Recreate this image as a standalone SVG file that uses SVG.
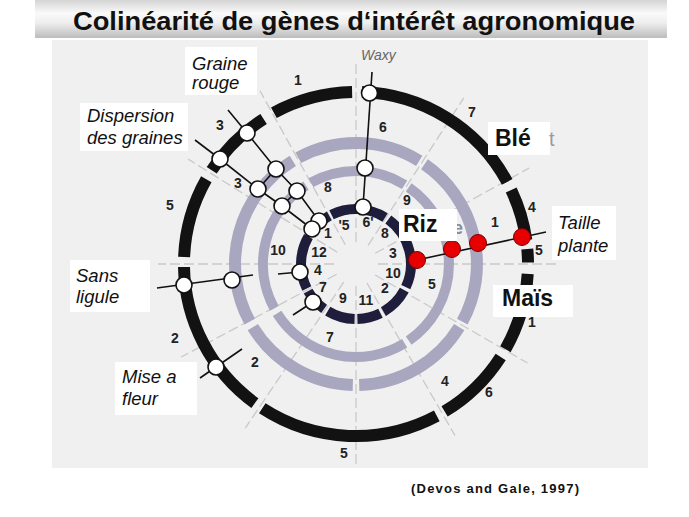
<svg xmlns="http://www.w3.org/2000/svg" width="689" height="517" viewBox="0 0 689 517">
<defs>
<linearGradient id="bar" x1="0" y1="0" x2="0" y2="1">
<stop offset="0" stop-color="#d4d4d4"/>
<stop offset="0.35" stop-color="#fafafa"/>
<stop offset="0.6" stop-color="#eeeeee"/>
<stop offset="1" stop-color="#bcbcbc"/>
</linearGradient>
<style>
.rad{stroke:#c9c9c9;stroke-width:1.3;stroke-dasharray:10 4;fill:none}
.blk{fill:none;stroke:#121212;stroke-width:12}
.gry{fill:none;stroke:#a9a6bf;stroke-width:12}
.gry2{fill:none;stroke:#a9a6bf;stroke-width:10}
.nvy{fill:none;stroke:#1e1e3c;stroke-width:10}
.ln{fill:none;stroke:#111;stroke-width:1.6}
.wc{fill:#fff;stroke:#111;stroke-width:1.6}
.rc{fill:#e60000;stroke:#7a0000;stroke-width:1}
.num{font-family:"Liberation Sans",Arial,sans-serif;font-weight:bold;font-size:14px;fill:#222;text-anchor:middle}
.lab{font-family:"Liberation Sans",Arial,sans-serif;font-style:italic;font-size:18.5px;fill:#111}
.sp{font-family:"Liberation Sans",Arial,sans-serif;font-weight:bold;font-size:23px;fill:#111}
.box{fill:#fff}
</style>
</defs>
<rect width="689" height="517" fill="#fff"/>
<rect x="52" y="40" width="596" height="428" fill="#f0f0f0"/>
<g id="title">
<rect x="35" y="0" width="632" height="38" fill="url(#bar)"/>
<text x="354" y="30" text-anchor="middle" font-family="Liberation Sans,Arial,sans-serif" font-weight="bold" font-size="25" textLength="562" lengthAdjust="spacingAndGlyphs" fill="#111">Colinéarité de gènes d‘intérêt agronomique</text>
</g>
<g id="radials">
<line class="rad" x1="356" y1="242" x2="356" y2="62"/>
<line class="rad" x1="368" y1="245.5" x2="463.8" y2="97.9"/>
<line class="rad" x1="375.2" y1="253.3" x2="529.2" y2="168"/>
<line class="rad" x1="378" y1="264" x2="560" y2="264"/>
<line class="rad" x1="375.1" y1="275" x2="527.5" y2="363"/>
<line class="rad" x1="367" y1="283.1" x2="455" y2="435.5"/>
<line class="rad" x1="356" y1="286" x2="356" y2="464"/>
<line class="rad" x1="343.7" y1="282.2" x2="245.3" y2="428.1"/>
<line class="rad" x1="336.6" y1="274.3" x2="181.2" y2="357"/>
<line class="rad" x1="334" y1="264" x2="158" y2="264"/>
<line class="rad" x1="337.3" y1="252.3" x2="188.1" y2="159.1"/>
<line class="rad" x1="345.3" y1="244.8" x2="260" y2="90.8"/>
</g>
<g id="ring-ble">
<path class="blk" d="M362,92.1 A172,172 0 0 1 507.2,181.9"/>
<path class="blk" d="M511.2,190 A172,172 0 0 1 526.3,240.1"/>
<path class="blk" d="M527.3,249 A172,172 0 0 1 528,262.5"/>
<path class="blk" d="M527.7,273.9 A172,172 0 0 1 505.4,349.2"/>
<path class="blk" d="M500.7,356.9 A172,172 0 0 1 444.6,411.4"/>
<path class="blk" d="M436.8,415.9 A172,172 0 0 1 262.3,408.3"/>
<path class="blk" d="M254.9,403.1 A172,172 0 0 1 184,267"/>
<path class="blk" d="M184.1,257.1 A172,172 0 0 1 206.3,179.3"/>
<path class="blk" d="M211.7,170.3 A172,172 0 0 1 263.6,119"/>
<path class="blk" d="M273.9,112.8 A172,172 0 0 1 352.1,92.1"/>
</g>
<g id="ring-gray-outer">
<path class="gry" d="M298.3,157.7 A121,121 0 0 1 419.2,160.8"/>
<path class="gry" d="M424.5,164.3 A121,121 0 0 1 462.3,321.7"/>
<path class="gry" d="M459.2,327.2 A121,121 0 0 1 359.2,385"/>
<path class="gry" d="M352.8,385 A121,121 0 0 1 252.8,327.2"/>
<path class="gry" d="M249.7,321.7 A121,121 0 0 1 292.8,160.8"/>
</g>
<g id="ring-gray-inner">
<path class="gry2" d="M310.9,182.7 A93,93 0 0 1 404.6,184.7"/>
<path class="gry2" d="M408.7,187.4 A93,93 0 0 1 408.7,340.6"/>
<path class="gry2" d="M404.6,343.3 A93,93 0 0 1 277.1,313.3"/>
<path class="gry2" d="M274.3,308.4 A93,93 0 0 1 306,185.6"/>
</g>
<g id="ring-riz">
<path class="nvy" d="M331.5,214.8 A55,55 0 0 1 385.1,217.4"/>
<path class="nvy" d="M388.3,219.5 A55,55 0 0 1 405.8,287.2"/>
<path class="nvy" d="M404.3,290.2 A55,55 0 0 1 383.5,311.6"/>
<path class="nvy" d="M380.5,313.2 A55,55 0 0 1 357.4,319"/>
<path class="nvy" d="M354.6,319 A55,55 0 0 1 327.7,311.1"/>
<path class="nvy" d="M324.1,308.8 A55,55 0 0 1 308.1,291.1"/>
<path class="nvy" d="M306.8,288.5 A55,55 0 0 1 308.4,236.5"/>
<path class="nvy" d="M309.6,234.4 A55,55 0 0 1 329.3,215.9"/>
</g>
<g id="numbers">
<text class="num" x="298" y="85">1</text>
<text class="num" x="220" y="130">3</text>
<text class="num" x="238" y="188">3</text>
<text class="num" x="170" y="210">5</text>
<text class="num" x="328" y="192">8</text>
<text class="num" x="383" y="132">6</text>
<text class="num" x="472" y="117">7</text>
<text class="num" x="407" y="205">9</text>
<text class="num" x="495" y="227">1</text>
<text class="num" x="532" y="212">4</text>
<text class="num" x="539" y="255">5</text>
<text class="num" x="532" y="327">1</text>
<text class="num" x="489" y="397">6</text>
<text class="num" x="445" y="386">4</text>
<text class="num" x="432" y="289">5</text>
<text class="num" x="344" y="458">5</text>
<text class="num" x="175" y="343">2</text>
<text class="num" x="255" y="367">2</text>
<text class="num" x="330" y="342">7</text>
<text class="num" x="278" y="255">10</text>
<text class="num" x="344" y="230">'5</text>
<text class="num" x="368" y="227">6'</text>
<text class="num" x="385" y="238">8</text>
<text class="num" x="393" y="258">3</text>
<text class="num" x="393" y="278">10</text>
<text class="num" x="385" y="293">2</text>
<text class="num" x="366" y="305">11</text>
<text class="num" x="343" y="303">9</text>
<text class="num" x="323" y="292">7</text>
<text class="num" x="318" y="275">4</text>
<text class="num" x="319" y="257">12</text>
<text class="num" x="328" y="238">1</text>
</g>
<g id="connectors">
<polyline class="ln" points="372,72 363,207"/>
<polyline class="ln" points="228,110 247,133 276,169 297,191 319,221"/>
<polyline class="ln" points="195,140 220,159 258,189 282,206 312,229"/>
<line class="ln" x1="276" y1="169" x2="258" y2="189"/>
<line class="ln" x1="297" y1="191" x2="282" y2="206"/>
<line class="ln" x1="319" y1="221" x2="312" y2="229"/>
<line class="ln" x1="157" y1="288" x2="253" y2="275"/>
<line class="ln" x1="200" y1="378" x2="242" y2="349"/>
<line class="ln" x1="278" y1="274" x2="300" y2="272"/>
<line class="ln" x1="293" y1="315" x2="313" y2="302"/>
<line class="ln" x1="417" y1="260" x2="546" y2="232"/>
</g>
<g id="loci">
<circle class="wc" cx="369.5" cy="93" r="8"/>
<circle class="wc" cx="365" cy="168" r="8"/>
<circle class="wc" cx="363" cy="207" r="8"/>
<circle class="wc" cx="247" cy="133" r="8"/>
<circle class="wc" cx="276" cy="169" r="8"/>
<circle class="wc" cx="297" cy="191" r="8"/>
<circle class="wc" cx="319" cy="221" r="8"/>
<circle class="wc" cx="220" cy="159" r="8"/>
<circle class="wc" cx="258" cy="189" r="8"/>
<circle class="wc" cx="282" cy="206" r="8"/>
<circle class="wc" cx="312" cy="229" r="8"/>
<circle class="wc" cx="184" cy="285" r="8"/>
<circle class="wc" cx="232" cy="280" r="8"/>
<circle class="wc" cx="216" cy="367" r="8"/>
<circle class="wc" cx="300" cy="272" r="8"/>
<circle class="wc" cx="313" cy="302" r="8"/>
<circle class="rc" cx="417" cy="260" r="8.5"/>
<circle class="rc" cx="452" cy="249" r="8.5"/>
<circle class="rc" cx="478" cy="243" r="8.5"/>
<circle class="rc" cx="522" cy="237" r="8.5"/>
</g>
<g id="label-waxy"><text x="361" y="60" font-family="Liberation Sans,Arial,sans-serif" font-style="italic" font-size="14" fill="#666">Waxy</text></g>
<g id="label-graine"><rect class="box" x="185" y="47" width="72" height="48"/><text class="lab" x="192" y="70">Graine</text><text class="lab" x="192" y="89">rouge</text></g>
<g id="label-dispersion"><rect class="box" x="80" y="103" width="108" height="48"/><text class="lab" x="87" y="122">Dispersion</text><text class="lab" x="87" y="144">des graines</text></g>
<g id="label-sans"><rect class="box" x="70" y="260" width="80" height="52"/><text class="lab" x="76" y="282">Sans</text><text class="lab" x="76" y="303">ligule</text></g>
<g id="label-mise"><rect class="box" x="115" y="362" width="82" height="53"/><text class="lab" x="122" y="383">Mise a</text><text class="lab" x="122" y="405">fleur</text></g>
<g id="label-taille"><rect class="box" x="552" y="206" width="64" height="54"/><text class="lab" x="558" y="229">Taille</text><text class="lab" x="558" y="252">plante</text></g>
<g id="label-ble"><rect class="box" x="488" y="122" width="62" height="33"/><text class="sp" x="495" y="146">Blé</text><text x="549" y="146" font-family="Liberation Sans,Arial,sans-serif" font-size="20" fill="#9a9a9a">t</text></g>
<g id="label-riz"><text x="453" y="234" font-family="Liberation Sans,Arial,sans-serif" font-weight="bold" font-size="18" fill="#8a8a9a">e</text><rect class="box" x="399" y="209" width="58" height="32"/><text class="sp" x="403" y="232">Riz</text></g>
<g id="label-mais"><rect class="box" x="493" y="285" width="80" height="32"/><text class="sp" x="502" y="306">Maïs</text></g>
<g id="citation"><text x="411" y="493" font-family="Liberation Sans,Arial,sans-serif" font-weight="bold" font-size="13" textLength="168" lengthAdjust="spacing" fill="#111">(Devos and Gale, 1997)</text></g>
</svg>
